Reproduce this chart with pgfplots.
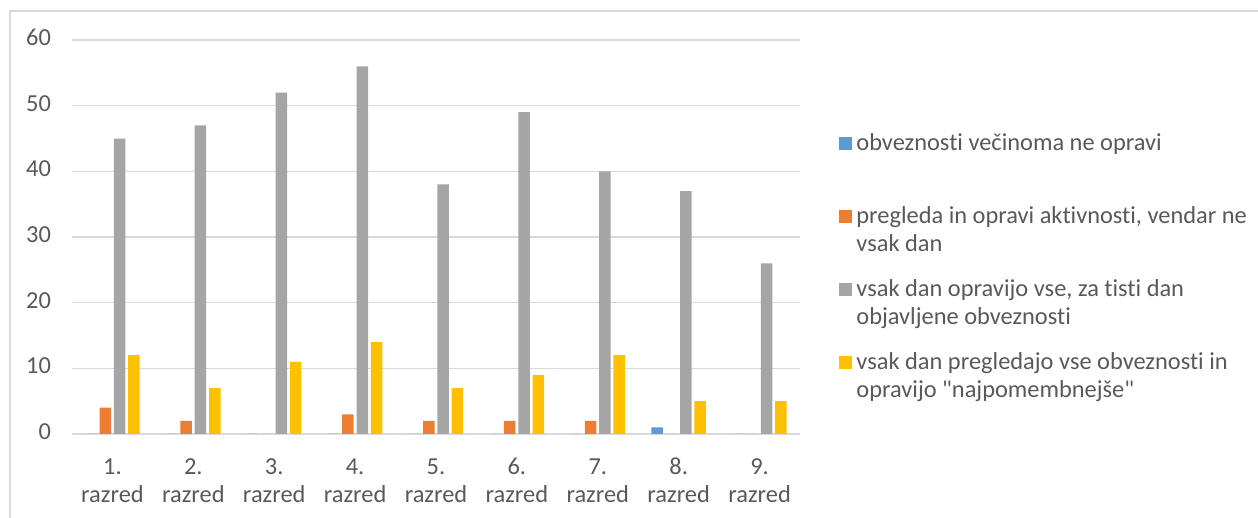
\documentclass[border=0pt]{standalone}
\usepackage{pgfplots}
\pgfplotsset{compat=1.18}
\usepackage{fontspec}
\setmainfont{Carlito}[Ligatures={TeXOff,NoCommon}]
\definecolor{cBlue}{HTML}{5B9BD5}
\definecolor{cOrange}{HTML}{ED7D31}
\definecolor{cGray}{HTML}{A5A5A5}
\definecolor{cYellow}{HTML}{FFC000}
\definecolor{cText}{HTML}{595959}
\definecolor{cGrid}{HTML}{D9D9D9}
\begin{document}
\begin{tikzpicture}[font=\fontsize{12.2}{14}\selectfont]
\useasboundingbox (0,0) rectangle (629pt,259pt);
\draw[color=cGrid, line width=0.6pt] (5pt,0) -- (5pt,253.5pt) -- (629pt,253.5pt);
\begin{axis}[
  at={(36pt,42pt)}, anchor=south west, scale only axis,
  width=364pt, height=197pt,
  ybar=1.4pt, bar width=5.75pt,
  xmin=-0.5, xmax=8.5, ymin=0, ymax=60,
  xtick={0,1,2,3,4,5,6,7,8},
  xticklabels={{1.\\razred},{2.\\razred},{3.\\razred},{4.\\razred},{5.\\razred},{6.\\razred},{7.\\razred},{8.\\razred},{9.\\razred}},
  typeset ticklabels with strut,
  ytick={0,10,20,30,40,50,60},
  ymajorgrids, grid style={cGrid, line width=0.6pt},
  axis x line*=bottom, axis y line*=left,
  y axis line style={draw=none},
  x axis line style={cGrid, line width=0.6pt, -},
  major tick length=0pt,
  /pgf/number format/assume math mode=true,
  yticklabel style={text=cText, xshift=-7pt},
  xticklabel style={align=center, text=cText, yshift=-6.75pt},
  legend style={at={(1.0536,0.7745)}, anchor=north west, draw=none, fill=none,
    inner sep=0pt, text=cText, row sep=8.5pt,
    nodes={anchor=base west, align=left}},
  legend image code/.code={\fill[#1] (0pt,13.85pt) rectangle (6.5pt,20.35pt);},
]
\addplot[fill=cBlue, draw=none] coordinates {(0,0) (1,0) (2,0) (3,0) (4,0) (5,0) (6,0) (7,1) (8,0)};
\addplot[fill=cOrange, draw=none] coordinates {(0,4) (1,2) (2,0) (3,3) (4,2) (5,2) (6,2) (7,0) (8,0)};
\addplot[fill=cGray, draw=none] coordinates {(0,45) (1,47) (2,52) (3,56) (4,38) (5,49) (6,40) (7,37) (8,26)};
\addplot[fill=cYellow, draw=none] coordinates {(0,12) (1,7) (2,11) (3,14) (4,7) (5,9) (6,12) (7,5) (8,5)};
\addlegendentry{obveznosti večinoma ne opravi\\\mbox{}}
\addlegendentry{pregleda in opravi aktivnosti, vendar ne\\vsak dan}
\addlegendentry{vsak dan opravijo vse, za tisti dan\\objavljene obveznosti}
\addlegendentry{vsak dan pregledajo vse obveznosti in\\opravijo "najpomembnejše"}
\end{axis}
\end{tikzpicture}
\end{document}
